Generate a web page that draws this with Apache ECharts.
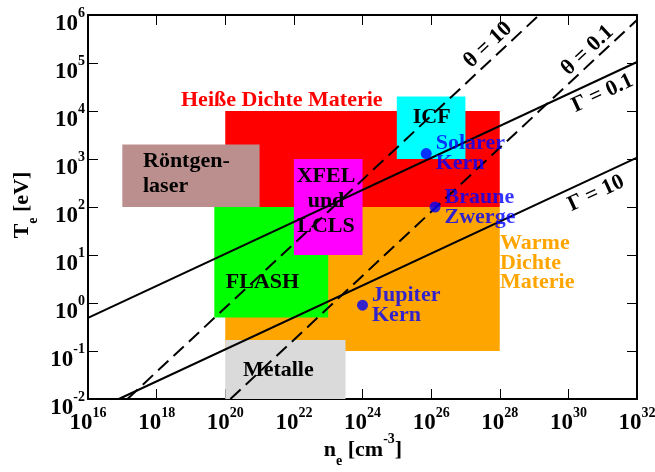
<!DOCTYPE html>
<html><head><meta charset="utf-8">
<script src="https://cdn.jsdelivr.net/npm/echarts@6/dist/echarts.min.js"></script>
<style>html,body{margin:0;padding:0;background:#fff}#c{width:655px;height:472px}</style>
</head><body><div id="c"></div>
<script>
// ---------- data ----------
const regionNames = ['Heiße Dichte Materie', 'Warme Dichte Materie', 'FLASH', 'Röntgenlaser', 'ICF', 'XFEL und LCLS', 'Metalle'];
const regionNeMin = [1e20, 1e20, 4.8e19, 1e17, 1e25, 1e22, 1e20];
const regionNeMax = [1e28, 1e28, 1e23, 1e21, 1e27, 1e24, 3.2e23];
const regionTeMin = [100, 0.1, 0.5, 100, 1000, 10, 0.01];
const regionTeMax = [1e4, 100, 100, 2000, 2e4, 1000, 0.17];

const pointNames = ['Solarer\nKern', 'Braune\nZwerge', 'Jupiter\nKern'];
const pointNe = [7.2e25, 1.3e26, 1e24];
const pointTe = [1300, 100, 0.9];

const gamma01 = [[1e16, 0.49], [1e32, 1.05e5]];   // Γ = 0.1
const gamma10 = [[7.9e16, 0.01], [1e32, 1070]];   // Γ = 10
const theta10 = [[1.41e17, 0.01], [1.41e29, 1e6]]; // θ = 10
const theta01 = [[1.41e20, 0.01], [1e32, 7.9e5]];  // θ = 0.1

const xMin = 1e16, xMax = 1e32, yMin = 1e-2, yMax = 1e6;

// ---------- styles ----------
const regionColors = ['#ff0000', '#ffa500', '#00ff00', '#bc8f8f', '#00ffff', '#ff00ff', '#dadada'];
const FONT = 'Liberation Serif';

const chart = echarts.init(document.getElementById('c'), null, {renderer: 'canvas'});

function expLabel(v) {
  const e = Math.round(Math.log10(v));
  return '{b|10}{s|' + e + '}';
}
const tickRich = {
  b: {fontFamily: FONT, fontWeight: 'bold', fontSize: 23, lineHeight: 23, color: '#000', verticalAlign: 'middle'},
  s: {fontFamily: FONT, fontWeight: 'bold', fontSize: 14, lineHeight: 14, color: '#000', padding: [0, 0, 21, 0], verticalAlign: 'middle'}
};
const titleRich = {
  a: {fontFamily: FONT, fontWeight: 'bold', fontSize: 22, lineHeight: 22, color: '#000', verticalAlign: 'middle'},
  sub: {fontFamily: FONT, fontWeight: 'bold', fontSize: 14, lineHeight: 14, color: '#000', padding: [22, 0, 0, 0], verticalAlign: 'middle'},
  sup: {fontFamily: FONT, fontWeight: 'bold', fontSize: 14, lineHeight: 14, color: '#000', padding: [0, 0, 22, 0], verticalAlign: 'middle'}
};

const axisCommon = {
  type: 'log', logBase: 10,
  splitLine: {show: false},
  axisLine: {show: true, onZero: false, lineStyle: {color: '#000', width: 2}},
  axisTick: {show: true, inside: true, length: 10, lineStyle: {color: '#000', width: 1}},
  minorTick: {show: false}
};

function txt(text, x, y, color, opts) {
  return Object.assign({
    type: 'text', x: x, y: y, z: 2, z2: 10,
    style: Object.assign({text: text, fill: color, font: 'bold 22px "' + FONT + '"', align: 'left', verticalAlign: 'middle'}, (opts && opts.style) || {})
  }, (opts && opts.el) || {});
}

const lineStyleOf = (dashed) => ({color: '#000', width: 2, type: dashed ? [14, 7] : 'solid'});

const option = {
  animation: false,
  backgroundColor: '#fff',
  grid: {left: 88, right: 18, top: 15, bottom: 73, containLabel: false, outerBoundsMode: 'none'},
  xAxis: [
    Object.assign({}, axisCommon, {
      position: 'bottom', min: xMin, max: xMax, interval: 2,
      axisLabel: {show: true, margin: 13, formatter: expLabel, rich: tickRich}
    }),
    Object.assign({}, axisCommon, {
      position: 'top', min: xMin, max: xMax, interval: 2,
      axisLabel: {show: false}
    })
  ],
  yAxis: [
    Object.assign({}, axisCommon, {
      position: 'left', min: yMin, max: yMax, interval: 1,
      axisLabel: {show: true, margin: 3, padding: [18, 0, 0, 0], formatter: expLabel, rich: tickRich}
    }),
    Object.assign({}, axisCommon, {
      position: 'right', min: yMin, max: yMax, interval: 1,
      axisLabel: {show: false}
    })
  ],
  series: [
    {
      type: 'custom', z: 1, clip: true,
      encode: {x: [0, 1], y: [2, 3]},
      data: regionNames.map((n, i) => [regionNeMin[i], regionNeMax[i], regionTeMin[i], regionTeMax[i]]),
      renderItem: function (params, api) {
        const p0 = api.coord([api.value(0), api.value(2)]);
        const p1 = api.coord([api.value(1), api.value(3)]);
        return {
          type: 'rect',
          shape: {x: p0[0], y: p1[1], width: p1[0] - p0[0], height: p0[1] - p1[1]},
          style: {fill: regionColors[params.dataIndex], stroke: null}
        };
      },
      silent: true
    },
    {type: 'line', z: 3, data: gamma01, showSymbol: false, symbol: 'none', lineStyle: lineStyleOf(false), clip: true, silent: true},
    {type: 'line', z: 3, data: gamma10, showSymbol: false, symbol: 'none', lineStyle: lineStyleOf(false), clip: true, silent: true},
    {type: 'line', z: 3, data: theta10, showSymbol: false, symbol: 'none', lineStyle: lineStyleOf(true), clip: true, silent: true},
    {type: 'line', z: 3, data: theta01, showSymbol: false, symbol: 'none', lineStyle: lineStyleOf(true), clip: true, silent: true},
    {
      type: 'scatter', z: 4, symbol: 'circle', symbolSize: 11,
      itemStyle: {color: '#0000ff'},
      data: pointNe.map((n, i) => [n, pointTe[i]]),
      label: {
        show: true, position: 'right', distance: 4,
        formatter: (p) => pointNames[p.dataIndex],
        color: '#0000ff', fontFamily: FONT, fontWeight: 'bold', fontSize: 22, lineHeight: 20
      },
      silent: true
    }
  ],
  graphic: {
    z: 2,
    elements: [
      // region labels
      txt('Heiße Dichte Materie', 181, 100.5, '#ff0000'),
      txt('ICF', 431.7, 117, '#000', {style: {align: 'center'}}),
      txt('Röntgen-', 143, 161, '#000'),
      txt('laser', 143, 186, '#000'),
      txt('XFEL', 326, 176.7, '#000', {style: {align: 'center'}}),
      txt('und', 326, 201.7, '#000', {style: {align: 'center'}}),
      txt('LCLS', 326, 226.7, '#000', {style: {align: 'center'}}),
      txt('FLASH', 262.5, 282.5, '#000', {style: {align: 'center'}}),
      txt('Metalle', 278.3, 370, '#000', {style: {align: 'center'}}),
      txt('Warme', 500, 243.5, '#ffa500'),
      txt('Dichte', 500, 263, '#ffa500'),
      txt('Materie', 500, 282.5, '#ffa500'),
      // line labels
      txt('θ = 10', 488, 45, '#000', {style: {align: 'center'}, el: {rotation: 43 * Math.PI / 180, z: 5}}),
      txt('θ = 0.1', 587.5, 50.5, '#000', {style: {align: 'center'}, el: {rotation: 43 * Math.PI / 180, z: 5}}),
      txt('Γ = 0.1', 602.5, 93.4, '#000', {style: {align: 'center'}, el: {rotation: 25 * Math.PI / 180, z: 5}}),
      txt('Γ = 10', 596, 193.4, '#000', {style: {align: 'center'}, el: {rotation: 25 * Math.PI / 180, z: 5}}),
      // axis titles
      {
        type: 'text', x: 363, y: 450, z: 5,
        style: {text: '{a|n}{sub|e}{a| [cm}{sup|-3}{a|]}', rich: titleRich, align: 'center', verticalAlign: 'middle'}
      },
      {
        type: 'text', x: 22, y: 205, z: 5, rotation: Math.PI / 2,
        style: {text: '{a|T}{sub|e}{a| [eV]}', rich: titleRich, align: 'center', verticalAlign: 'middle'}
      }
    ]
  }
};
chart.setOption(option);
</script>
</body></html>
